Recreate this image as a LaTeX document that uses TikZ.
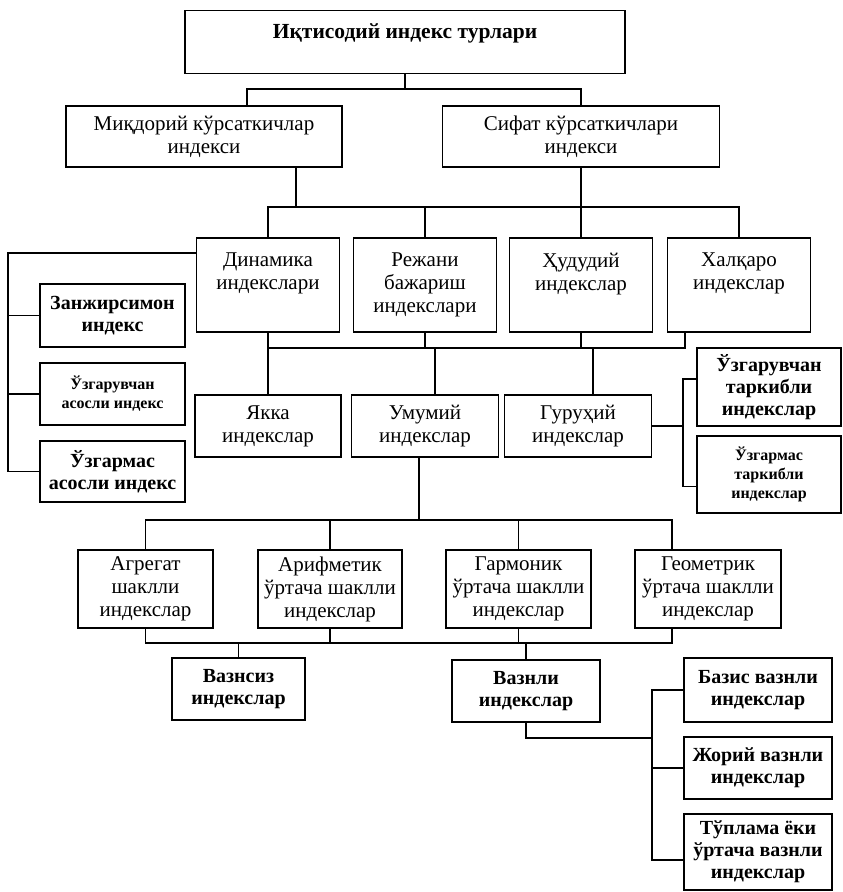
\documentclass[tikz,border=0pt]{standalone}
\usepackage{fontspec}
\setmainfont{Liberation Serif}
\usetikzlibrary{calc}

\tikzset{
  box/.style={draw, line width=1.4pt, align=center, inner sep=1pt, font=\fontsize{21}{23}\selectfont},
  bbox/.style={box, font=\fontsize{20}{22}\selectfont\bfseries},
  sbox/.style={box, font=\fontsize{16}{19}\selectfont\bfseries},
  upbox/.style={box, inner ysep=15pt},
  link/.style={line width=1.4pt},
}
% text kept in the upper part of the tall boxes
\newcommand{\upper}[1]{\parbox[c][64pt][t]{141pt}{\centering #1}}

\begin{document}
\begin{tikzpicture}[x=1pt, y=-1pt]
\useasboundingbox (0,0) rectangle (843,892);

% boxes, from top to bottom
\node[bbox, font=\fontsize{21.5}{23}\selectfont\bfseries, anchor=north, minimum width=440pt, inner ysep=0pt, text height=28pt, text depth=35pt] (turlar) at (405,10) {Иқтисодий индекс турлари};

\node[box, minimum width=276pt, minimum height=61pt] (miqdor) at (204,136.5) {Миқдорий кўрсаткичлар\\индекси};
\node[box, minimum width=277pt, minimum height=61pt] (sifat) at (581,136.5) {Сифат кўрсаткичлари\\индекси};

\node[upbox] (dinamika) at (268,285) {\upper{Динамика\\индекслари}};
\node[upbox] (reja) at (425,285) {\upper{Режани\\бажариш\\индекслари}};
\node[upbox] (hudud) at (581,285) {\upper{Ҳудудий\\индекслар}};
\node[upbox] (halqaro) at (739,285) {\upper{Халқаро\\индекслар}};

\node[bbox, minimum width=145pt, minimum height=63pt] (zanjir) at (112.5,315.5) {Занжирсимон\\индекс};
\node[sbox, minimum width=145pt, minimum height=62pt] (uzasos) at (112.5,394) {Ўзгарувчан\\асосли индекс};
\node[bbox, minimum width=145pt, minimum height=61pt] (uzmasos) at (112.5,471.5) {Ўзгармас\\асосли индекс};

\node[box, minimum width=146pt, minimum height=62pt] (yakka) at (268,426) {Якка\\индекслар};
\node[box, minimum width=147pt, minimum height=62pt] (umumiy) at (425,426) {Умумий\\индекслар};
\node[box, minimum width=147pt, minimum height=62pt] (guruh) at (578,426) {Гуруҳий\\индекслар};

\node[bbox, minimum width=144pt, minimum height=78pt] (uztark) at (769,387) {Ўзгарувчан\\таркибли\\индекслар};
\node[sbox, minimum width=144pt, minimum height=77pt] (umtark) at (769,474.5) {Ўзгармас\\таркибли\\индекслар};

\node[box, minimum width=135pt, minimum height=78pt] (agregat) at (145.5,589) {Агрегат\\шаклли\\индекслар};
\node[box, minimum width=144pt, minimum height=78pt] (arifm) at (330,589) {Арифметик\\ўртача шаклли\\индекслар};
\node[box, minimum width=145pt, minimum height=78pt] (garmon) at (518.5,589) {Гармоник\\ўртача шаклли\\индекслар};
\node[box, minimum width=146pt, minimum height=78pt] (geomet) at (708,589) {Геометрик\\ўртача шаклли\\индекслар};

\node[bbox, minimum width=133pt, minimum height=62pt] (vaznsiz) at (238.5,689) {Вазнсиз\\индекслар};
\node[bbox, minimum width=148pt, minimum height=62pt] (vaznli) at (526,691) {Вазнли\\индекслар};

\node[bbox, minimum width=148pt, minimum height=64pt] (bazis) at (758,690) {Базис вазнли\\индекслар};
\node[bbox, minimum width=148pt, minimum height=62pt] (joriy) at (758,768) {Жорий вазнли\\индекслар};
\node[bbox, minimum width=148pt, minimum height=76pt] (tuplama) at (758,852) {Тўплама ёки\\ўртача вазнли\\индекслар};

% connectors
\coordinate (b1l) at (247,89);
\coordinate (b1r) at (581,89);
\draw[link] (turlar.south) -- (turlar.south |- b1l);
\draw[link] (b1l |- miqdor.north) -- (b1l) -- (b1r) -- (sifat.north);

\coordinate (b2) at (296,207);
\draw[link] (b2 |- miqdor.south) -- (b2);
\draw[link] (dinamika.north) -- (dinamika.north |- b2) -- (halqaro.north |- b2) -- (halqaro.north);
\draw[link] (reja.north) -- (reja.north |- b2);
\draw[link] (sifat.south) -- (hudud.north);

\coordinate (lt) at (8,253);
\draw[link] (dinamika.west |- lt) -- (lt) |- (uzmasos.west);
\draw[link] (lt |- zanjir.west) -- (zanjir.west);
\draw[link] (lt |- uzasos.west) -- (uzasos.west);

\coordinate (b3) at (685,348);
\coordinate (u3) at ([xshift=10pt]umumiy.north);
\coordinate (g3) at ([xshift=15pt]guruh.north);
\draw[link] (dinamika.south) -- (dinamika.south |- b3) -- (b3) -- (b3 |- halqaro.south);
\draw[link] (reja.south) -- (reja.south |- b3);
\draw[link] (hudud.south) -- (hudud.south |- b3);
\draw[link] (dinamika.south |- b3) -- (yakka.north);
\draw[link] (u3 |- b3) -- (u3);
\draw[link] (g3 |- b3) -- (g3);

\coordinate (rg) at (683,426);
\coordinate (rg1) at ([yshift=8pt]uztark.west);
\coordinate (rg2) at ([yshift=-12pt]umtark.west);
\draw[link] (guruh.east) -- (rg);
\draw[link] (rg1) -| (rg) |- (rg2);

\coordinate (b4) at (672,520);
\coordinate (u4) at ([xshift=-6pt]umumiy.south);
\draw[link] (u4) -- (u4 |- b4);
\draw[link] (agregat.north) -- (agregat.north |- b4) -- (b4) -- (b4 |- geomet.north);
\draw[link] (arifm.north) -- (arifm.north |- b4);
\draw[link] (garmon.north) -- (garmon.north |- b4);

\coordinate (b5) at (672,643);
\draw[link] (agregat.south) -- (agregat.south |- b5) -- (b5) -- (b5 |- geomet.south);
\draw[link] (arifm.south) -- (arifm.south |- b5);
\draw[link] (garmon.south) -- (garmon.south |- b5);
\draw[link] (vaznsiz.north |- b5) -- (vaznsiz.north);
\draw[link] (vaznli.north |- b5) -- (vaznli.north);

\coordinate (vb) at (652,738);
\coordinate (tp) at ([yshift=-8pt]tuplama.west);
\draw[link] (vaznli.south) |- (vb);
\draw[link] (bazis.west) -| (tp -| vb) -- (tp);
\draw[link] (joriy.west) -- (joriy.west -| vb);
\end{tikzpicture}
\end{document}
